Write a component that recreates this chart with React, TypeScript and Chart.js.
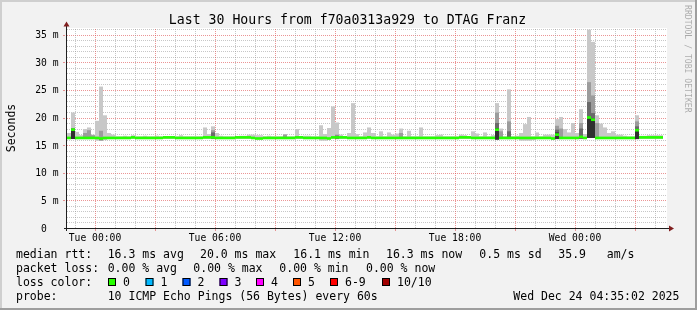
import React, { useEffect, useRef } from 'react';
import { Chart, registerables } from 'chart.js';

Chart.register(...registerables);

// ---------------- data ----------------
const titleText = 'Last 30 Hours from f70a0313a929 to DTAG Franz';
const yAxisTitle = 'Seconds';
const watermark = 'RRDTOOL / TOBI OETIKER';

// time axis in hours relative to Tue 00:00
const hourStart = -1.4;
const hourEnd = 28.6;
const binHours = 0.2;
const yMax = 36.2;

const yTickValues = [0, 5, 10, 15, 20, 25, 30, 35];
const yTickLabels = ['0  ', '5 m', '10 m', '15 m', '20 m', '25 m', '30 m', '35 m'];
const xTickHours = [0, 6, 12, 18, 24];
const xTickLabels = ['Tue 00:00', 'Tue 06:00', 'Tue 12:00', 'Tue 18:00', 'Wed 00:00'];

// top of the light smoke band per 12-minute bin (ms)
const smokeTop = [
  17.2, 20.9, 17.4, 16.8, 17.9, 18.2, 16.9, 19.4, 25.6, 20.4,
  17.2, 16.9, 16.6, 16.6, 16.7, 16.6, 16.8, 16.6, 16.6, 16.7,
  16.6, 16.6, 16.7, 16.6, 16.6, 16.6, 16.6, 16.6, 16.8, 16.6,
  16.6, 16.6, 16.6, 16.6, 18.2, 17.0, 18.4, 17.2, 16.7, 16.6,
  16.6, 16.6, 16.6, 16.7, 16.7, 16.9, 16.9, 16.8, 16.8, 16.6,
  16.7, 16.6, 16.6, 16.6, 17.0, 16.6, 16.6, 17.9, 16.6, 16.7,
  16.7, 16.6, 16.6, 18.6, 17.0, 18.1, 22.0, 19.1, 16.9, 16.6,
  17.2, 22.6, 17.0, 16.6, 17.3, 18.2, 17.2, 16.6, 17.5, 16.6,
  17.3, 16.9, 17.1, 18.0, 16.6, 17.6, 16.6, 16.6, 18.2, 16.6,
  16.6, 16.6, 16.8, 16.9, 16.6, 16.6, 16.6, 16.6, 16.9, 16.8,
  16.6, 17.5, 17.1, 16.6, 17.3, 16.6, 16.8, 22.6, 18.0, 16.6,
  25.1, 16.6, 16.7, 17.2, 18.8, 20.1, 16.6, 17.3, 16.6, 16.9,
  16.9, 16.9, 19.7, 20.1, 17.9, 17.3, 19.0, 17.2, 21.5, 17.0,
  35.9, 33.7, 20.4, 18.9, 18.2, 17.2, 17.5, 16.9, 16.9, 16.7,
  16.6, 16.6, 20.4, 16.7, 16.7, 16.8, 16.8, 16.8, 16.8, null,
];

// bottom of the light smoke band per bin (ms)
const smokeBottom = [
  16.1, 16.1, 16.1, 16.1, 16.1, 16.1, 16.1, 15.8, 15.8, 15.9,
  16.1, 16.1, 16.1, 16.1, 16.1, 16.1, 16.1, 16.1, 16.1, 16.1,
  16.1, 16.1, 16.1, 16.1, 16.1, 16.1, 16.1, 16.1, 16.1, 16.1,
  16.1, 16.1, 16.1, 16.1, 16.1, 16.1, 16.1, 16.1, 16.1, 16.1,
  16.1, 16.1, 16.1, 16.1, 16.1, 16.1, 16.1, 16.1, 16.1, 16.1,
  16.1, 16.1, 16.1, 16.1, 16.1, 16.1, 16.1, 16.1, 16.1, 16.1,
  16.1, 16.1, 16.1, 15.8, 15.8, 16.1, 16.1, 16.1, 16.1, 16.1,
  16.1, 16.1, 16.1, 16.1, 16.1, 16.1, 16.1, 16.1, 16.1, 16.1,
  16.1, 16.1, 16.1, 16.1, 16.1, 16.1, 16.1, 16.1, 16.1, 16.1,
  16.1, 16.1, 16.1, 16.1, 16.1, 16.1, 16.1, 16.1, 16.1, 16.1,
  16.1, 16.1, 16.1, 16.1, 16.1, 16.1, 16.1, 16.0, 16.1, 16.1,
  16.1, 16.1, 16.1, 15.8, 15.8, 15.8, 15.9, 16.1, 16.1, 16.1,
  16.1, 16.1, 16.1, 16.1, 16.1, 16.1, 16.1, 16.1, 16.1, 16.1,
  16.3, 16.3, 16.1, 16.1, 16.1, 16.1, 16.1, 16.1, 16.1, 16.1,
  16.1, 16.1, 16.1, 16.1, 16.1, 16.1, 16.1, 16.1, 16.1, null,
];

// median rtt per bin (ms)
const medianRtt = [
  16.3, 17.8, 16.3, 16.3, 16.3, 16.3, 16.3, 16.3, 16.2, 16.3,
  16.3, 16.3, 16.3, 16.3, 16.3, 16.3, 16.4, 16.3, 16.3, 16.3,
  16.3, 16.3, 16.3, 16.3, 16.4, 16.4, 16.4, 16.3, 16.3, 16.3,
  16.3, 16.3, 16.3, 16.3, 16.4, 16.4, 16.4, 16.3, 16.3, 16.3,
  16.3, 16.3, 16.4, 16.4, 16.4, 16.4, 16.3, 16.2, 16.2, 16.3,
  16.3, 16.3, 16.3, 16.3, 16.3, 16.3, 16.3, 16.4, 16.4, 16.3,
  16.3, 16.3, 16.3, 16.3, 16.3, 16.2, 16.4, 16.4, 16.4, 16.4,
  16.3, 16.3, 16.3, 16.3, 16.3, 16.4, 16.3, 16.3, 16.3, 16.3,
  16.3, 16.3, 16.3, 16.3, 16.3, 16.3, 16.3, 16.3, 16.3, 16.3,
  16.3, 16.3, 16.3, 16.3, 16.3, 16.3, 16.3, 16.3, 16.4, 16.4,
  16.4, 16.3, 16.3, 16.3, 16.3, 16.3, 16.3, 17.8, 16.3, 16.3,
  16.3, 16.3, 16.3, 16.3, 16.3, 16.3, 16.3, 16.3, 16.3, 16.3,
  16.3, 16.2, 16.9, 16.3, 16.3, 16.3, 16.3, 16.3, 16.5, 16.3,
  20.0, 19.6, 16.3, 16.3, 16.3, 16.3, 16.3, 16.3, 16.3, 16.3,
  16.3, 16.3, 17.7, 16.4, 16.4, 16.4, 16.4, 16.4, 16.4, null,
];

// denser smoke layers (bin index -> top value in ms)
const midBins = [4, 5, 6, 8, 36, 54, 67, 83, 107, 108, 110, 122, 123, 128, 130, 131, 132, 142];
const midTop = [17.2, 17.7, 16.8, 17.6, 17.7, 16.9, 16.9, 17.2, 20.9, 17.5, 19.3, 18.5, 18.0, 19.0, 26.4, 24.0, 19.0, 19.3];
const darkBins = [36, 67, 107, 110, 122, 128, 130, 131, 142];
const darkTop = [17.3, 16.7, 19.0, 17.5, 17.8, 18.0, 22.8, 20.8, 18.4];
const coreBins = [1, 107, 122, 130, 131, 142];
const coreTop = [18.0, 18.1, 17.3, 20.1, 19.8, 17.9];

// legend
const rttLabel = 'median rtt:';
const rttStats = ['16.3 ms avg', '20.0 ms max', '16.1 ms min', '16.3 ms now', '0.5 ms sd', '35.9   am/s'];
const lossLabel = 'packet loss:';
const lossStats = ['0.00 % avg', '0.00 % max', '0.00 % min', '0.00 % now'];
const colorLabel = 'loss color:';
const lossLabels = ['0', '1', '2', '3', '4', '5', '6-9', '10/10'];
const lossColors = ['#26ff00', '#00b8ff', '#0059ff', '#7e00ff', '#ff00ff', '#ff5500', '#ff0000', '#a10000'];
const probeLabel = 'probe:';
const probeText = '10 ICMP Echo Pings (56 Bytes) every 60s';
const stampText = 'Wed Dec 24 04:35:02 2025';

// ---------------- layout / style ----------------
const W = 697;
const H = 310;
const MONO = '"DejaVu Sans Mono", monospace';
const rttX = [107.7, 200, 293.3, 386, 479.3, 558.3];
const lossX = [107.7, 193.3, 279.3, 366];
const swatchX = [108, 145.5, 182.5, 219.5, 256, 293, 330, 382];
const rowBase = [258, 272, 286, 300];
const GRID = 'rgba(143,143,143,0.5)';
const MGRID = 'rgba(222,79,79,0.6)';
const MEDIAN_HALF = 0.24; // half thickness of the median line in ms

const binCenter = (i: number) => hourStart + binHours * (i + 0.5);

const rrdPlugin = {
  id: 'rrdLook',
  beforeDraw(chart: any) {
    const { ctx } = chart;
    ctx.save();
    ctx.fillStyle = '#f2f2f2';
    ctx.fillRect(0, 0, W, H);
    ctx.fillStyle = '#cfcfcf';
    ctx.fillRect(0, 0, W, 2);
    ctx.fillRect(0, 0, 2, H);
    ctx.fillStyle = '#9e9e9e';
    ctx.fillRect(0, H - 2, W, 2);
    ctx.fillRect(W - 2, 0, 2, H);
    ctx.restore();
  },
  beforeDatasetsDraw(chart: any) {
    const { ctx, chartArea: a } = chart;
    const xs = chart.scales.x;
    const ys = chart.scales.y;
    ctx.save();
    ctx.fillStyle = '#ffffff';
    ctx.fillRect(a.left, a.top, a.right - a.left, a.bottom - a.top);
    ctx.lineWidth = 1;
    ctx.setLineDash([1, 1]);
    for (let v = 1; v <= Math.floor(yMax); v++) {
      const py = Math.round(ys.getPixelForValue(v)) + 0.5;
      ctx.strokeStyle = v % 5 === 0 ? MGRID : GRID;
      ctx.beginPath();
      ctx.moveTo(a.left, py);
      ctx.lineTo(a.right, py);
      ctx.stroke();
    }
    for (let h = Math.ceil(hourStart); h <= Math.floor(hourEnd); h++) {
      const px = Math.round(xs.getPixelForValue(h)) + 0.5;
      ctx.strokeStyle = h % 3 === 0 ? MGRID : GRID;
      ctx.beginPath();
      ctx.moveTo(px, a.bottom);
      ctx.lineTo(px, a.top);
      ctx.stroke();
    }
    ctx.restore();
  },
  afterDatasetsDraw(chart: any) {
    const { ctx, chartArea: a } = chart;
    const xs = chart.scales.x;
    const ys = chart.scales.y;
    ctx.save();
    ctx.setLineDash([]);
    ctx.lineWidth = 1;
    ctx.strokeStyle = MGRID;
    ctx.beginPath();
    for (let h = Math.ceil(hourStart); h <= Math.floor(hourEnd); h++) {
      if (h % 3 !== 0) continue;
      const px = Math.round(xs.getPixelForValue(h)) + 0.5;
      ctx.moveTo(px, a.bottom + 1);
      ctx.lineTo(px, a.bottom + 3);
    }
    yTickValues.forEach((v) => {
      if (v === 0) return;
      const py = Math.round(ys.getPixelForValue(v)) + 0.5;
      ctx.moveTo(a.left - 4, py);
      ctx.lineTo(a.left - 2, py);
    });
    ctx.stroke();
    ctx.strokeStyle = '#1f1f1f';
    ctx.beginPath();
    ctx.moveTo(a.left - 3, a.bottom + 0.5);
    ctx.lineTo(a.right + 3, a.bottom + 0.5);
    ctx.moveTo(a.left - 0.5, a.bottom + 3);
    ctx.lineTo(a.left - 0.5, a.top - 3);
    ctx.stroke();
    ctx.fillStyle = '#801f1f';
    ctx.beginPath();
    ctx.moveTo(a.right + 7, a.bottom + 0.5);
    ctx.lineTo(a.right + 2, a.bottom - 2.5);
    ctx.lineTo(a.right + 2, a.bottom + 3.5);
    ctx.closePath();
    ctx.fill();
    ctx.beginPath();
    ctx.moveTo(a.left - 0.5, a.top - 6.5);
    ctx.lineTo(a.left - 3.5, a.top - 1.5);
    ctx.lineTo(a.left + 2.5, a.top - 1.5);
    ctx.closePath();
    ctx.fill();

    ctx.fillStyle = '#000';
    ctx.font = `9.7px ${MONO}`;
    ctx.textBaseline = 'alphabetic';
    ctx.textAlign = 'right';
    yTickValues.forEach((v, i) => {
      ctx.fillText(yTickLabels[i], 58.5, ys.getPixelForValue(v) + 3.6);
    });
    ctx.textAlign = 'center';
    xTickHours.forEach((h, i) => {
      ctx.fillText(xTickLabels[i], xs.getPixelForValue(h), 240.5);
    });

    ctx.font = `13.2px ${MONO}`;
    ctx.textAlign = 'center';
    ctx.fillText(titleText, 347.5, 24);

    ctx.save();
    ctx.font = `11.5px ${MONO}`;
    ctx.translate(15, (a.top + a.bottom) / 2);
    ctx.rotate(-Math.PI / 2);
    ctx.textAlign = 'center';
    ctx.fillText(yAxisTitle, 0, 0);
    ctx.restore();

    ctx.save();
    ctx.font = `8.15px ${MONO}`;
    ctx.fillStyle = 'rgba(0,0,0,0.3)';
    ctx.translate(684.5, 5);
    ctx.rotate(Math.PI / 2);
    ctx.textAlign = 'left';
    ctx.fillText(watermark, 0, 0);
    ctx.restore();

    ctx.font = `11.5px ${MONO}`;
    ctx.textAlign = 'left';
    ctx.fillStyle = '#000';
    ctx.fillText(rttLabel, 16, rowBase[0]);
    rttStats.forEach((s, i) => ctx.fillText(s, rttX[i], rowBase[0]));
    ctx.fillText(lossLabel, 16, rowBase[1]);
    lossStats.forEach((s, i) => ctx.fillText(s, lossX[i], rowBase[1]));
    ctx.fillText(colorLabel, 16, rowBase[2]);
    lossLabels.forEach((s, i) => {
      const sx = swatchX[i];
      ctx.fillStyle = lossColors[i];
      ctx.fillRect(sx, rowBase[2] - 8, 8, 8);
      ctx.strokeStyle = '#000';
      ctx.lineWidth = 1;
      ctx.strokeRect(sx + 0.5, rowBase[2] - 7.5, 7, 7);
      ctx.fillStyle = '#000';
      ctx.fillText(s, sx + 15, rowBase[2]);
    });
    ctx.fillText(probeLabel, 16, rowBase[3]);
    ctx.fillText(probeText, 107.7, rowBase[3]);
    ctx.fillText(stampText, 513.3, rowBase[3]);
    ctx.restore();
  },
};

function bandData(bins: number[], tops: number[]) {
  return bins.map((b, k) => ({ x: binCenter(b), y: [smokeBottom[b] as number, tops[k]] }));
}

export default function App() {
  const ref = useRef<HTMLCanvasElement>(null);
  useEffect(() => {
    document.body.style.margin = '0';
    const canvas = ref.current!;
    const smokeData = smokeTop
      .map((t, i) => (t == null ? null : { x: binCenter(i), y: [smokeBottom[i] as number, t] }))
      .filter(Boolean);
    const medianData = medianRtt
      .map((m, i) => (m == null ? null : { x: binCenter(i), y: [m - MEDIAN_HALF, m + MEDIAN_HALF] }))
      .filter(Boolean);
    const barCommon = {
      grouped: false,
      barPercentage: 1,
      categoryPercentage: 1,
      borderWidth: 0,
      inflateAmount: 0,
    };
    const chart = new Chart(canvas, {
      type: 'bar',
      data: {
        datasets: [
          { label: 'median rtt', data: medianData as any, backgroundColor: lossColors[0], order: 0, ...barCommon } as any,
          { label: 'core', data: bandData(coreBins, coreTop) as any, backgroundColor: '#303030', order: 1, ...barCommon } as any,
          { label: 'dark', data: bandData(darkBins, darkTop) as any, backgroundColor: '#6a6a6a', order: 2, ...barCommon } as any,
          { label: 'mid', data: bandData(midBins, midTop) as any, backgroundColor: '#9c9c9c', order: 3, ...barCommon } as any,
          { label: 'smoke', data: smokeData as any, backgroundColor: '#c8c8c8', order: 4, ...barCommon } as any,
        ],
      },
      options: {
        animation: false,
        responsive: false,
        devicePixelRatio: 1,
        layout: { padding: { left: 67, top: 28, right: 30, bottom: 82 } },
        scales: {
          x: { type: 'linear', min: hourStart, max: hourEnd, display: false, offset: false },
          y: { type: 'linear', min: 0, max: yMax, display: false },
        },
        plugins: { legend: { display: false }, tooltip: { enabled: false } },
      } as any,
      plugins: [rrdPlugin as any],
    });
    return () => chart.destroy();
  }, []);
  return <canvas ref={ref} width={W} height={H} style={{ display: 'block', width: W, height: H }} />;
}
